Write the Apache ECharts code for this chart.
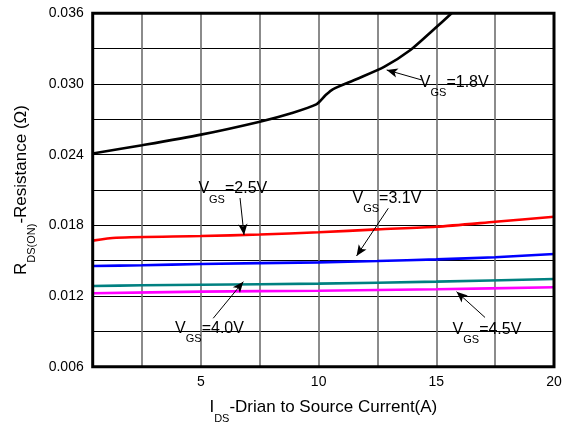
<!DOCTYPE html>
<html>
<head>
<meta charset="utf-8">
<script src="https://cdn.jsdelivr.net/npm/echarts@6/dist/echarts.min.js"></script>
<style>
  html, body { margin: 0; padding: 0; background: #fff; }
  #chart { width: 562px; height: 423px; }
</style>
</head>
<body>
<div id="chart"></div>
<script>
// Drain current (A) and on-resistance (ohm) for each gate voltage
const vgs18X = [0.4, 2.5, 5, 7.5, 8.8, 9.9, 10.3, 10.6, 11.6, 12.8, 13.9, 14.9, 15.65];
const vgs18Y = [0.0241, 0.0248, 0.0257, 0.0268, 0.0275, 0.02827, 0.02906, 0.02955, 0.0304, 0.03147, 0.03288, 0.03464, 0.0360];

const vgs25X = [0.4, 1.4, 5, 7.5, 10, 12.5, 15, 17.5, 20];
const vgs25Y = [0.0167, 0.01695, 0.01709, 0.01722, 0.01741, 0.01766, 0.01788, 0.0183, 0.01873];

const vgs31X = [0.4, 2.5, 5, 10, 12.5, 15, 17.5, 20];
const vgs31Y = [0.01455, 0.01461, 0.01472, 0.01486, 0.01497, 0.01511, 0.01529, 0.01557];

const vgs40X = [0.4, 2.5, 5, 10, 15, 20];
const vgs40Y = [0.01285, 0.01291, 0.01296, 0.01305, 0.01322, 0.01345];

const vgs45X = [0.4, 5, 10, 15, 20];
const vgs45Y = [0.01223, 0.01237, 0.01245, 0.01257, 0.01274];

// Axis ticks
const xLabelValues = [5, 10, 15, 20];
const xGridValues = [2.5, 5, 7.5, 10, 12.5, 15, 17.5];

// Curve labels: text anchor and arrow (tail -> head), in data units
const curveNames = ['1.8V', '2.5V', '3.1V', '4.0V', '4.5V'];
const labelAnchors = [[14.30, 0.03011], [4.89, 0.02108], [11.44, 0.02024], [3.90, 0.00926], [15.69, 0.00912]];
const arrowTails = [[14.38, 0.03034], [6.66, 0.02032], [12.96, 0.01945], [5.52, 0.01011], [17.07, 0.01018]];
const arrowHeads = [[12.89, 0.03119], [6.83, 0.01718], [11.61, 0.01540], [6.80, 0.01322], [15.86, 0.01237]];

const colors = ['#000000', '#ff0000', '#0000ff', '#008080', '#ff00ff'];
const xs = [vgs18X, vgs25X, vgs31X, vgs40X, vgs45X];
const ys = [vgs18Y, vgs25Y, vgs31Y, vgs40Y, vgs45Y];

const FONT = 'Liberation Sans, Arial, sans-serif';

// main text sits at the top of the line box, the subscript at its bottom
const subRich = (main, sub) => ({
  m: { fontSize: main, lineHeight: main, verticalAlign: 'top', color: '#000', fontFamily: FONT },
  s: { fontSize: sub, lineHeight: main + 8, verticalAlign: 'bottom', color: '#000', fontFamily: FONT }
});

const series = curveNames.map((name, i) => ({
  name: 'VGS=' + name,
  type: 'line',
  data: xs[i].map((x, k) => [x, ys[i][k]]),
  showSymbol: false,
  smooth: 0.25,
  clip: true,
  lineStyle: { color: colors[i], width: 2.6 },
  itemStyle: { color: colors[i] },
  z: 3,
  animation: false,
  markLine: {
    silent: true,
    animation: false,
    symbol: ['none', 'arrow'],
    symbolSize: [7, 11],
    lineStyle: { color: '#000', width: 1, type: 'solid' },
    label: { show: false },
    data: [[{ coord: arrowTails[i] }, { coord: arrowHeads[i] }]]
  },
  markPoint: {
    silent: true,
    animation: false,
    symbol: 'circle',
    symbolSize: 0,
    data: [{ coord: labelAnchors[i] }],
    label: {
      show: true,
      position: [0, -8],
      align: 'left',
      verticalAlign: 'top',
      formatter: '{m|V}{s|GS}{m|=' + name + '}',
      rich: subRich(16, 11)
    }
  }
}));

const chart = echarts.init(document.getElementById('chart'), null, { renderer: 'canvas' });
chart.setOption({
  backgroundColor: '#fff',
  animation: false,
  grid: {
    left: 92.7, right: 8, top: 13.3, bottom: 56.3,
    outerBoundsMode: 'none',
    containLabel: false,
    show: true, borderColor: '#000', borderWidth: 3, backgroundColor: 'transparent', z: 5
  },
  xAxis: {
    type: 'value',
    min: 0.4,
    max: 20,
    name: '{m|I}{s|DS}{m|-Drian to Source Current(A)}',
    nameLocation: 'middle',
    nameGap: 32.5,
    nameTextStyle: { rich: subRich(17, 11) },
    axisLine: { show: false },
    axisTick: { show: false, customValues: xGridValues },
    axisLabel: {
      customValues: xLabelValues,
      color: '#000', fontSize: 14, fontFamily: FONT, margin: 8
    },
    splitLine: { show: true, lineStyle: { color: '#6e6e6e', width: 1.6 } }
  },
  yAxis: {
    type: 'value',
    min: 0.006,
    max: 0.036,
    interval: 0.003,
    name: '{m|R}{s|DS(ON)}{m|-Resistance (Ω)}',
    nameLocation: 'middle',
    nameRotate: 90,
    nameGap: 55,
    nameTextStyle: { rich: subRich(17, 11) },
    axisLine: { show: false },
    axisTick: { show: false },
    axisLabel: {
      color: '#000', fontSize: 14, fontFamily: FONT, margin: 9,
      formatter: v => (Math.round(v * 1000) % 6 === 0 ? v.toFixed(3) : '')
    },
    splitLine: { show: true, lineStyle: { color: '#000', width: 1 } }
  },
  series: series
});
</script>
</body>
</html>
